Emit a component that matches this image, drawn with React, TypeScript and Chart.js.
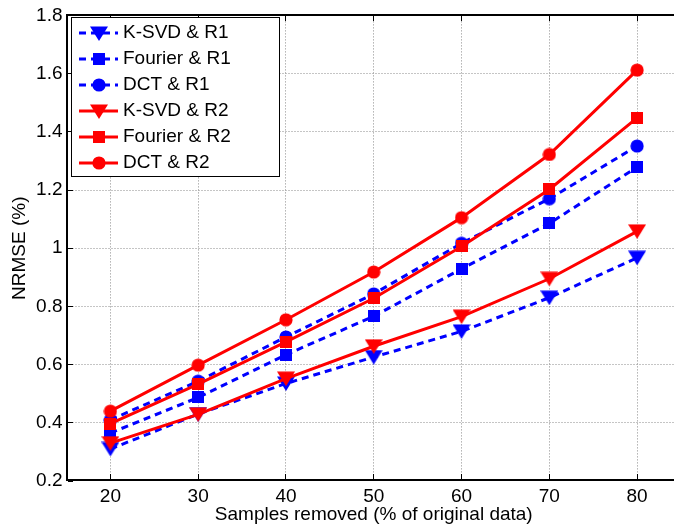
import React, { useEffect, useRef } from "react";
import { Chart, registerables } from "chart.js";

Chart.register(...registerables);

// ---------- data ----------
const samplesRemoved = [20, 30, 40, 50, 60, 70, 80];
const ksvdR1 = [0.31, 0.43, 0.535, 0.626, 0.714, 0.83, 0.967];
const fourierR1 = [0.365, 0.487, 0.634, 0.766, 0.929, 1.085, 1.279];
const dctR1 = [0.41, 0.543, 0.695, 0.843, 1.017, 1.17, 1.351];
const ksvdR2 = [0.33, 0.429, 0.552, 0.663, 0.765, 0.895, 1.058];
const fourierR2 = [0.397, 0.533, 0.678, 0.828, 1.006, 1.202, 1.448];
const dctR2 = [0.44, 0.598, 0.754, 0.918, 1.105, 1.322, 1.612];

const seriesLabels = [
  "K-SVD & R1",
  "Fourier & R1",
  "DCT & R1",
  "K-SVD & R2",
  "Fourier & R2",
  "DCT & R2",
];
const xTickValues = [20, 30, 40, 50, 60, 70, 80];
const yTickValues = [0.2, 0.4, 0.6, 0.8, 1.0, 1.2, 1.4, 1.6, 1.8];
const xTitle = "Samples removed (% of original data)";
const yTitle = "NRMSE (%)";

const FONT = "'Liberation Sans', Arial, Helvetica, sans-serif";
const FS = 19;
const RED = "#ff0000";
const BLUE = "#0000ff";

function makeMarker(shape: string, color: string): HTMLCanvasElement {
  const c = document.createElement("canvas");
  const g = c.getContext("2d") as CanvasRenderingContext2D;
  if (shape === "tri") {
    c.width = 18;
    c.height = 15;
    g.fillStyle = color;
    g.beginPath();
    g.moveTo(0, 0.5);
    g.lineTo(18, 0.5);
    g.lineTo(9, 15);
    g.closePath();
    g.fill();
  } else if (shape === "sq") {
    c.width = 12;
    c.height = 12;
    g.fillStyle = color;
    g.fillRect(0, 0, 12, 12);
  } else {
    c.width = 14;
    c.height = 14;
    g.fillStyle = color;
    g.beginPath();
    g.arc(7, 7, 6.6, 0, Math.PI * 2);
    g.fill();
  }
  return c;
}

const framePlugin = {
  id: "matlabFrame",
  beforeDatasetsDraw(chart: any) {
    const { ctx, chartArea: a, scales } = chart;
    const x = scales.x;
    const y = scales.y;
    ctx.save();
    ctx.strokeStyle = "#8a8a8a";
    ctx.lineWidth = 1;
    ctx.setLineDash([1, 2]);
    for (const v of xTickValues) {
      const px = Math.floor(x.getPixelForValue(v)) + 0.5;
      ctx.beginPath();
      ctx.moveTo(px, a.top);
      ctx.lineTo(px, a.bottom);
      ctx.stroke();
    }
    for (const v of yTickValues) {
      if (v <= y.min + 1e-9 || v >= y.max - 1e-9) continue;
      const py = Math.floor(y.getPixelForValue(v)) + 0.5;
      ctx.beginPath();
      ctx.moveTo(a.left, py);
      ctx.lineTo(a.right, py);
      ctx.stroke();
    }
    ctx.restore();
  },
  afterDatasetsDraw(chart: any) {
    const { ctx, chartArea: a, scales } = chart;
    const x = scales.x;
    const y = scales.y;
    ctx.save();
    ctx.fillStyle = "#000";
    const L = Math.round(a.left) - 1;
    const R = Math.round(a.right) - 1;
    const T = Math.round(a.top) - 1;
    const B = Math.round(a.bottom) - 2;
    ctx.fillRect(L, T, R - L + 2, 2);
    ctx.fillRect(L, B, R - L + 2, 2);
    ctx.fillRect(L, T, 2, B - T + 2);
    ctx.fillRect(R, T, 2, B - T + 2);
    // tick marks
    for (const v of xTickValues) {
      const px = Math.floor(x.getPixelForValue(v));
      ctx.fillRect(px, B - 5, 1, 5);
      ctx.fillRect(px, T + 2, 1, 5);
    }
    for (const v of yTickValues) {
      const py = Math.floor(y.getPixelForValue(v));
      ctx.fillRect(L + 2, py, 5, 1);
      ctx.fillRect(R - 5, py, 5, 1);
    }
    ctx.restore();
  },
  afterDraw(chart: any) {
    const { ctx } = chart;
    const datasets = chart.data.datasets;
    const bx = 71.5;
    const by = 17.5;
    const bw = 208;
    const bh = 159;
    ctx.save();
    ctx.fillStyle = "#fff";
    ctx.fillRect(bx, by, bw, bh);
    ctx.strokeStyle = "#000";
    ctx.lineWidth = 1;
    ctx.strokeRect(bx, by, bw, bh);
    ctx.font = `${FS}px ${FONT}`;
    ctx.textBaseline = "middle";
    ctx.textAlign = "left";
    datasets.forEach((ds: any, i: number) => {
      const cy = 33 + i * 26;
      ctx.save();
      ctx.strokeStyle = ds.borderColor;
      ctx.lineWidth = ds.borderWidth;
      ctx.setLineDash(ds.borderDash || []);
      ctx.beginPath();
      ctx.moveTo(79, cy);
      ctx.lineTo(118, cy);
      ctx.stroke();
      ctx.restore();
      const m = ds.pointStyle as HTMLCanvasElement;
      ctx.drawImage(m, Math.round(98.5 - m.width / 2), Math.round(cy - m.height / 2));
      ctx.fillStyle = "#000";
      ctx.fillText(ds.label, 123, cy);
    });
    ctx.restore();
  },
};

export default function App() {
  const ref = useRef<HTMLCanvasElement | null>(null);

  useEffect(() => {
    const canvas = ref.current;
    if (!canvas) return;
    const series = [ksvdR1, fourierR1, dctR1, ksvdR2, fourierR2, dctR2];
    const shapes = ["tri", "sq", "circ", "tri", "sq", "circ"];
    const datasets = series.map((vals, i) => {
      const isR2 = i >= 3;
      const color = isR2 ? RED : BLUE;
      return {
        label: seriesLabels[i],
        data: samplesRemoved.map((xv, j) => ({ x: xv, y: vals[j] })),
        borderColor: color,
        backgroundColor: color,
        borderWidth: 3,
        borderDash: isR2 ? [] : [7, 5],
        borderCapStyle: "butt",
        pointStyle: makeMarker(shapes[i], color),
        pointRadius: 6,
        pointHoverRadius: 6,
        tension: 0,
        fill: false,
        order: 6 - i,
      };
    });

    const chart = new Chart(canvas, {
      type: "line",
      data: { datasets } as any,
      options: {
        animation: false,
        responsive: false,
        devicePixelRatio: 1,
        events: [],
        layout: { padding: { left: 0, top: 13, right: 6.5, bottom: 0 } },
        plugins: {
          legend: { display: false },
          tooltip: { enabled: false },
        },
        scales: {
          x: {
            type: "linear",
            min: 15,
            max: 85,
            afterBuildTicks: (s: any) => {
              s.ticks = xTickValues.map((v) => ({ value: v }));
            },
            afterFit: (s: any) => {
              s.height = 45;
            },
            grid: { display: false, drawTicks: false },
            border: { display: false },
            ticks: {
              color: "#000",
              padding: 4,
              maxRotation: 0,
              autoSkip: false,
              font: { family: FONT, size: FS },
              callback: (v: any) => String(v),
            },
            title: {
              display: true,
              text: xTitle,
              color: "#000",
              font: { family: FONT, size: FS },
              padding: { top: 0, bottom: 0 },
            },
          },
          y: {
            type: "linear",
            min: 0.2,
            max: 1.8,
            afterBuildTicks: (s: any) => {
              s.ticks = yTickValues.map((v) => ({ value: v }));
            },
            afterFit: (s: any) => {
              s.width = 66.5;
            },
            grid: { display: false, drawTicks: false },
            border: { display: false },
            ticks: {
              color: "#000",
              padding: 4,
              autoSkip: false,
              font: { family: FONT, size: FS },
              callback: (v: any) => String(Math.round(Number(v) * 10) / 10),
            },
            title: {
              display: true,
              text: yTitle,
              color: "#000",
              font: { family: FONT, size: FS },
              padding: { top: 8, bottom: 0 },
            },
          },
        },
      } as any,
      plugins: [framePlugin],
    });
    return () => chart.destroy();
  }, []);

  return (
    <div
      style={{
        position: "fixed",
        left: 0,
        top: 0,
        width: 674,
        height: 526,
        overflow: "hidden",
        background: "#fff",
      }}
    >
      <canvas ref={ref} width={690} height={526} style={{ display: "block" }} />
    </div>
  );
}
